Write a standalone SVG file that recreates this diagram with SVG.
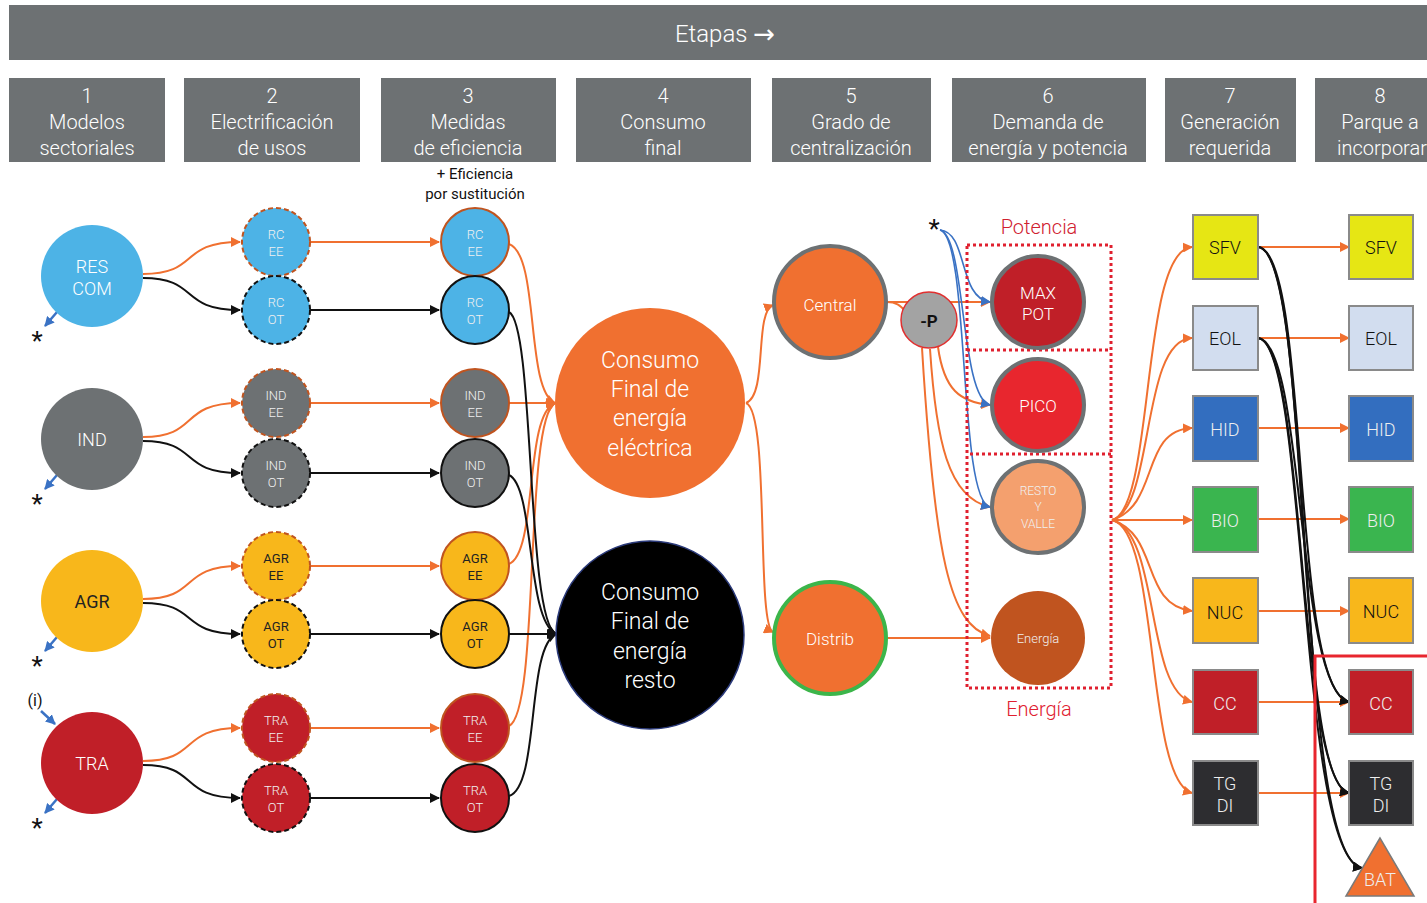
<svg xmlns="http://www.w3.org/2000/svg" width="1427" height="903" viewBox="0 0 1427 903">
<style>
text{font-family:Roboto,"Liberation Sans",sans-serif;text-anchor:middle;dominant-baseline:central}
.hdr{fill:#6d7173}
.ht{fill:#fff;font-size:24px;font-weight:300}
.st{fill:#fff;font-size:20px;font-weight:300}
.sm{fill:#f0f0f0;font-size:13px;font-weight:300}
.smd{fill:#222;font-size:13px}
.ee2{stroke:#c0541f;stroke-width:2;stroke-dasharray:5,3}
.ot2{stroke:#111;stroke-width:2;stroke-dasharray:5,3}
.ee3{stroke:#c0541f;stroke-width:2}
.ot3{stroke:#111;stroke-width:2}
.o{fill:none;stroke:#f07030;stroke-width:2}
.k{fill:none;stroke:#111;stroke-width:2}
.b{fill:none;stroke:#3a72c4;stroke-width:1.6}
.bx{stroke:#8a8a8a;stroke-width:2}
.bt{font-size:18px;font-weight:300}
.big{fill:#fff;font-size:23px;font-weight:300}
.ast{font-size:26px;fill:#111}
</style>
<defs>
<marker id="ao" viewBox="0 0 10 10" refX="9" refY="5" markerWidth="10" markerHeight="10" markerUnits="userSpaceOnUse" orient="auto"><path d="M0,0 L10,5 L0,10 z" fill="#f07030"/></marker>
<marker id="ak" viewBox="0 0 10 10" refX="9" refY="5" markerWidth="10" markerHeight="10" markerUnits="userSpaceOnUse" orient="auto"><path d="M0,0 L10,5 L0,10 z" fill="#111"/></marker>
<marker id="ab" viewBox="0 0 10 10" refX="9" refY="5" markerWidth="10" markerHeight="10" markerUnits="userSpaceOnUse" orient="auto"><path d="M0,0 L10,5 L0,10 z" fill="#3a72c4"/></marker>
</defs>

<g id="header">
<rect class="hdr" x="9" y="5" width="1418" height="55"/>
<text class="ht" x="725" y="34">Etapas <tspan style="font-family:'DejaVu Sans',sans-serif;font-size:26px;font-weight:400">→</tspan></text>
</g>

<g id="stages">
<rect class="hdr" x="9" y="78" width="156" height="84"/>
<text class="st" x="87" y="96">1</text><text class="st" x="87" y="122">Modelos</text><text class="st" x="87" y="148">sectoriales</text>
<rect class="hdr" x="184" y="78" width="176" height="84"/>
<text class="st" x="272" y="96">2</text><text class="st" x="272" y="122">Electrificación</text><text class="st" x="272" y="148">de usos</text>
<rect class="hdr" x="381" y="78" width="175" height="84"/>
<text class="st" x="468" y="96">3</text><text class="st" x="468" y="122">Medidas</text><text class="st" x="468" y="148">de eficiencia</text>
<rect class="hdr" x="576" y="78" width="175" height="84"/>
<text class="st" x="663" y="96">4</text><text class="st" x="663" y="122">Consumo</text><text class="st" x="663" y="148">final</text>
<rect class="hdr" x="772" y="78" width="159" height="84"/>
<text class="st" x="851" y="96">5</text><text class="st" x="851" y="122">Grado de</text><text class="st" x="851" y="148">centralización</text>
<rect class="hdr" x="952" y="78" width="194" height="84"/>
<text class="st" x="1048" y="96">6</text><text class="st" x="1048" y="122">Demanda de</text><text class="st" x="1048" y="148">energía y potencia</text>
<rect class="hdr" x="1165" y="78" width="131" height="84"/>
<text class="st" x="1230" y="96">7</text><text class="st" x="1230" y="122">Generación</text><text class="st" x="1230" y="148">requerida</text>
<rect class="hdr" x="1315" y="78" width="130" height="84"/>
<text class="st" x="1380" y="96">8</text><text class="st" x="1380" y="122">Parque a</text><text class="st" x="1382" y="148">incorporar</text>
<text x="475" y="174" style="font-size:15px;fill:#111">+ Eficiencia</text>
<text x="475" y="194" style="font-size:15px;fill:#111">por sustitución</text>
</g>

<g id="connectors">
<path class="o" d="M143,274 C200,274 178,242 240,242" marker-end="url(#ao)"/>
<path class="k" d="M143,278 C200,278 178,310 240,310" marker-end="url(#ak)"/>
<path class="o" d="M143,437 C200,437 178,403 240,403" marker-end="url(#ao)"/>
<path class="k" d="M143,441 C200,441 178,473 240,473" marker-end="url(#ak)"/>
<path class="o" d="M143,599 C200,599 178,566 240,566" marker-end="url(#ao)"/>
<path class="k" d="M143,603 C200,603 178,634 240,634" marker-end="url(#ak)"/>
<path class="o" d="M143,761 C200,761 178,728 240,728" marker-end="url(#ao)"/>
<path class="k" d="M143,765 C200,765 178,798 240,798" marker-end="url(#ak)"/>
<path class="o" d="M310,242 L439,242" marker-end="url(#ao)"/>
<path class="k" d="M310,310 L439,310" marker-end="url(#ak)"/>
<path class="o" d="M310,403 L439,403" marker-end="url(#ao)"/>
<path class="k" d="M310,473 L439,473" marker-end="url(#ak)"/>
<path class="o" d="M310,566 L439,566" marker-end="url(#ao)"/>
<path class="k" d="M310,634 L439,634" marker-end="url(#ak)"/>
<path class="o" d="M310,728 L439,728" marker-end="url(#ao)"/>
<path class="k" d="M310,798 L439,798" marker-end="url(#ak)"/>
<path class="o" d="M509,244 C540,255 525,390 555,403" marker-end="url(#ao)"/>
<path class="o" d="M509,403 L555,403" marker-end="url(#ao)"/>
<path class="o" d="M509,564 C538,552 524,415 555,403" marker-end="url(#ao)"/>
<path class="o" d="M509,726 C540,712 524,420 555,403" marker-end="url(#ao)"/>
<path class="k" d="M509,312 C535,325 526,620 556,634" marker-end="url(#ak)"/>
<path class="k" d="M509,475 C535,487 526,620 556,634" marker-end="url(#ak)"/>
<path class="k" d="M509,634 L556,634" marker-end="url(#ak)"/>
<path class="k" d="M509,796 C540,786 526,648 556,634" marker-end="url(#ak)"/>
<path class="o" d="M746,403 C768,395 754,312 773,305" marker-end="url(#ao)"/>
<path class="o" d="M746,403 C770,412 756,625 773,632" marker-end="url(#ao)"/>
<path class="o" d="M887,302 L990,302" marker-end="url(#ao)"/>
<path class="o" d="M887,302 C896,302 900,305 906,312"/>
<path class="o" d="M938,347 C944,390 960,402 990,405" marker-end="url(#ao)"/>
<path class="o" d="M930,349 C936,440 948,498 990,507" marker-end="url(#ao)"/>
<path class="o" d="M922,348 C935,560 950,625 990,636" marker-end="url(#ao)"/>
<path class="o" d="M888,638 L990,638" marker-end="url(#ao)"/>
<path class="b" d="M940,230 C968,232 958,298 990,302" marker-end="url(#ab)"/>
<path class="b" d="M940,230 C966,236 960,398 990,405" marker-end="url(#ab)"/>
<path class="b" d="M940,230 C970,238 958,500 990,507" marker-end="url(#ab)"/>
<path class="b" style="stroke-width:2.5" d="M57,312 L45,326" marker-end="url(#ab)"/>
<path class="b" style="stroke-width:2.5" d="M57,475 L45,489" marker-end="url(#ab)"/>
<path class="b" style="stroke-width:2.5" d="M57,637 L45,651" marker-end="url(#ab)"/>
<path class="b" style="stroke-width:2.5" d="M57,799 L45,813" marker-end="url(#ab)"/>
<path class="b" style="stroke-width:2.5" d="M41,711 L55,724" marker-end="url(#ab)"/>
<path class="o" d="M1112,520 C1155,510 1140,250 1192,247" marker-end="url(#ao)"/>
<path class="o" d="M1112,520 C1155,508 1140,340 1192,338" marker-end="url(#ao)"/>
<path class="o" d="M1112,520 C1160,505 1140,430 1192,428" marker-end="url(#ao)"/>
<path class="o" d="M1112,520 L1192,520" marker-end="url(#ao)"/>
<path class="o" d="M1112,520 C1160,535 1140,605 1192,611" marker-end="url(#ao)"/>
<path class="o" d="M1112,520 C1160,532 1145,690 1192,702" marker-end="url(#ao)"/>
<path class="o" d="M1112,520 C1160,530 1145,780 1192,793" marker-end="url(#ao)"/>
<path class="o" d="M1258,247 L1349,247" marker-end="url(#ao)"/>
<path class="o" d="M1258,338 L1349,338" marker-end="url(#ao)"/>
<path class="o" d="M1258,428 L1349,428" marker-end="url(#ao)"/>
<path class="o" d="M1258,519 L1349,519" marker-end="url(#ao)"/>
<path class="o" d="M1258,611 L1349,611" marker-end="url(#ao)"/>
<path class="o" d="M1258,702 L1349,702" marker-end="url(#ao)"/>
<path class="o" d="M1258,793 L1349,793" marker-end="url(#ao)"/>
<path class="k" d="M1258,247 C1310,250 1290,690 1349,702" marker-end="url(#ak)"/>
<path class="k" d="M1258,247 C1312,250 1292,782 1349,793" marker-end="url(#ak)"/>
<path class="k" d="M1258,247 C1314,250 1294,858 1362,868" marker-end="url(#ak)"/>
<path class="k" d="M1258,338 C1305,342 1296,690 1349,702" marker-end="url(#ak)"/>
<path class="k" d="M1258,338 C1306,342 1297,782 1349,793" marker-end="url(#ak)"/>
<path class="k" d="M1258,338 C1308,342 1298,858 1362,868" marker-end="url(#ak)"/>
</g>

<g id="marks">
<text class="ast" x="37" y="341">*</text>
<text class="ast" x="37" y="504">*</text>
<text class="ast" x="37" y="666">*</text>
<text class="ast" x="37" y="828">*</text>
<text x="35" y="700" style="font-size:16px;fill:#111">(i)</text>
<text class="ast" x="934" y="229">*</text>
</g>

<g id="n-res"><circle cx="92" cy="276" r="51" fill="#4db3e6"/><text class="st" x="92" y="266" style="font-size:18px">RES</text><text class="st" x="92" y="288" style="font-size:18px">COM</text></g>
<g id="n-ind"><circle cx="92" cy="439" r="51" fill="#6d7173"/><text class="st" x="92" y="439" style="font-size:18px">IND</text></g>
<g id="n-agr"><circle cx="92" cy="601" r="51" fill="#f8b71b"/><text x="92" y="601" style="font-size:18px;fill:#222">AGR</text></g>
<g id="n-tra"><circle cx="92" cy="763" r="51" fill="#c01f28"/><text class="st" x="92" y="763" style="font-size:18px">TRA</text></g>

<g id="n-rc-ee2"><circle cx="276" cy="242" r="34" fill="#4db3e6" class="ee2"/><text class="sm" x="276" y="234">RC</text><text class="sm" x="276" y="251">EE</text></g>
<g id="n-rc-ot2"><circle cx="276" cy="310" r="34" fill="#4db3e6" class="ot2"/><text class="sm" x="276" y="302">RC</text><text class="sm" x="276" y="319">OT</text></g>
<g id="n-ind-ee2"><circle cx="276" cy="403" r="34" fill="#6d7173" class="ee2"/><text class="sm" x="276" y="395">IND</text><text class="sm" x="276" y="412">EE</text></g>
<g id="n-ind-ot2"><circle cx="276" cy="473" r="34" fill="#6d7173" class="ot2"/><text class="sm" x="276" y="465">IND</text><text class="sm" x="276" y="482">OT</text></g>
<g id="n-agr-ee2"><circle cx="276" cy="566" r="34" fill="#f8b71b" class="ee2"/><text class="smd" x="276" y="558">AGR</text><text class="smd" x="276" y="575">EE</text></g>
<g id="n-agr-ot2"><circle cx="276" cy="634" r="34" fill="#f8b71b" class="ot2"/><text class="smd" x="276" y="626">AGR</text><text class="smd" x="276" y="643">OT</text></g>
<g id="n-tra-ee2"><circle cx="276" cy="728" r="34" fill="#c01f28" class="ee2"/><text class="sm" x="276" y="720">TRA</text><text class="sm" x="276" y="737">EE</text></g>
<g id="n-tra-ot2"><circle cx="276" cy="798" r="34" fill="#c01f28" class="ot2"/><text class="sm" x="276" y="790">TRA</text><text class="sm" x="276" y="807">OT</text></g>

<g id="n-rc-ee3"><circle cx="475" cy="242" r="34" fill="#4db3e6" class="ee3"/><text class="sm" x="475" y="234">RC</text><text class="sm" x="475" y="251">EE</text></g>
<g id="n-rc-ot3"><circle cx="475" cy="310" r="34" fill="#4db3e6" class="ot3"/><text class="sm" x="475" y="302">RC</text><text class="sm" x="475" y="319">OT</text></g>
<g id="n-ind-ee3"><circle cx="475" cy="403" r="34" fill="#6d7173" class="ee3"/><text class="sm" x="475" y="395">IND</text><text class="sm" x="475" y="412">EE</text></g>
<g id="n-ind-ot3"><circle cx="475" cy="473" r="34" fill="#6d7173" class="ot3"/><text class="sm" x="475" y="465">IND</text><text class="sm" x="475" y="482">OT</text></g>
<g id="n-agr-ee3"><circle cx="475" cy="566" r="34" fill="#f8b71b" class="ee3"/><text class="smd" x="475" y="558">AGR</text><text class="smd" x="475" y="575">EE</text></g>
<g id="n-agr-ot3"><circle cx="475" cy="634" r="34" fill="#f8b71b" class="ot3"/><text class="smd" x="475" y="626">AGR</text><text class="smd" x="475" y="643">OT</text></g>
<g id="n-tra-ee3"><circle cx="475" cy="728" r="34" fill="#c01f28" class="ee3"/><text class="sm" x="475" y="720">TRA</text><text class="sm" x="475" y="737">EE</text></g>
<g id="n-tra-ot3"><circle cx="475" cy="798" r="34" fill="#c01f28" class="ot3"/><text class="sm" x="475" y="790">TRA</text><text class="sm" x="475" y="807">OT</text></g>

<g id="n-cfe"><circle cx="650" cy="403" r="95" fill="#f07030"/><text class="big" x="650" y="360">Consumo</text><text class="big" x="650" y="389">Final de</text><text class="big" x="650" y="418">energía</text><text class="big" x="650" y="448">eléctrica</text></g>
<g id="n-cfr"><circle cx="650" cy="635" r="94" fill="#000" stroke="#2b3a7a" stroke-width="1.5"/><text class="big" x="650" y="592">Consumo</text><text class="big" x="650" y="621">Final de</text><text class="big" x="650" y="651">energía</text><text class="big" x="650" y="680">resto</text></g>

<g id="n-central"><circle cx="830" cy="302" r="56" fill="#f07030" stroke="#6d7173" stroke-width="4"/><text class="st" x="830" y="305" style="font-size:17px">Central</text></g>
<g id="n-distrib"><circle cx="830" cy="638" r="56" fill="#f07030" stroke="#3cb54a" stroke-width="4"/><text class="st" x="830" y="639" style="font-size:17px">Distrib</text></g>
<g id="n-p"><circle cx="929" cy="320" r="28" fill="#a3a3a3" stroke="#e03030" stroke-width="1.5"/><text x="929" y="321" style="font-size:17px;font-weight:bold;fill:#111">-P</text></g>

<g id="demand-box" fill="none" stroke="#e0202f" stroke-width="3" stroke-dasharray="3,3">
<rect x="967" y="245" width="144" height="443"/>
<line x1="967" y1="350" x2="1111" y2="350"/>
<line x1="970" y1="454" x2="1111" y2="454"/>
</g>
<text x="1039" y="227" style="font-size:20px;fill:#d0202f;font-weight:300">Potencia</text>
<text x="1039" y="709" style="font-size:20px;fill:#e0202f;font-weight:300">Energía</text>

<g id="n-maxpot"><circle cx="1038" cy="302" r="46" fill="#c01f28" stroke="#6d7173" stroke-width="4"/><text class="st" x="1038" y="293" style="font-size:17px">MAX</text><text class="st" x="1038" y="314" style="font-size:17px">POT</text></g>
<g id="n-pico"><circle cx="1038" cy="405" r="46" fill="#e8262e" stroke="#6d7173" stroke-width="4"/><text class="st" x="1038" y="406" style="font-size:17px">PICO</text></g>
<g id="n-resto"><circle cx="1038" cy="507" r="46" fill="#f4a06e" stroke="#6d7173" stroke-width="4"/><text class="sm" x="1038" y="491" style="font-size:12px">RESTO</text><text class="sm" x="1038" y="507" style="font-size:12px">Y</text><text class="sm" x="1038" y="524" style="font-size:12px">VALLE</text></g>
<g id="n-energia"><circle cx="1038" cy="638" r="47" fill="#c0541f"/><text class="sm" x="1038" y="638">Energía</text></g>

<g id="n-sfv7"><rect class="bx" x="1193" y="215" width="65" height="64" fill="#e6e614"/><text class="bt" x="1225" y="247" fill="#111">SFV</text></g>
<g id="n-eol7"><rect class="bx" x="1193" y="306" width="65" height="64" fill="#d2ddef"/><text class="bt" x="1225" y="338" fill="#111">EOL</text></g>
<g id="n-hid7"><rect class="bx" x="1193" y="396" width="65" height="65" fill="#336ebf"/><text class="bt" x="1225" y="429" fill="#eee">HID</text></g>
<g id="n-bio7"><rect class="bx" x="1193" y="487" width="65" height="65" fill="#3ab54f"/><text class="bt" x="1225" y="520" fill="#eee">BIO</text></g>
<g id="n-nuc7"><rect class="bx" x="1193" y="578" width="65" height="65" fill="#f8b71b"/><text class="bt" x="1225" y="612" fill="#111">NUC</text></g>
<g id="n-cc7"><rect class="bx" x="1193" y="670" width="65" height="64" fill="#c01f28"/><text class="bt" x="1225" y="703" fill="#eee">CC</text></g>
<g id="n-tg7"><rect class="bx" x="1193" y="761" width="65" height="64" fill="#2d2d30"/><text class="bt" x="1225" y="783" fill="#eee">TG</text><text class="bt" x="1225" y="805" fill="#eee">DI</text></g>

<g id="n-sfv8"><rect class="bx" x="1349" y="215" width="64" height="64" fill="#e6e614"/><text class="bt" x="1381" y="247" fill="#111">SFV</text></g>
<g id="n-eol8"><rect class="bx" x="1349" y="306" width="64" height="64" fill="#d2ddef"/><text class="bt" x="1381" y="338" fill="#111">EOL</text></g>
<g id="n-hid8"><rect class="bx" x="1349" y="396" width="64" height="65" fill="#336ebf"/><text class="bt" x="1381" y="429" fill="#eee">HID</text></g>
<g id="n-bio8"><rect class="bx" x="1349" y="487" width="64" height="65" fill="#3ab54f"/><text class="bt" x="1381" y="520" fill="#eee">BIO</text></g>
<g id="n-nuc8"><rect class="bx" x="1349" y="578" width="64" height="65" fill="#f8b71b"/><text class="bt" x="1381" y="611" fill="#111">NUC</text></g>
<g id="n-cc8"><rect class="bx" x="1349" y="670" width="64" height="64" fill="#c01f28"/><text class="bt" x="1381" y="703" fill="#eee">CC</text></g>
<g id="n-tg8"><rect class="bx" x="1349" y="761" width="64" height="64" fill="#2d2d30"/><text class="bt" x="1381" y="783" fill="#eee">TG</text><text class="bt" x="1381" y="805" fill="#eee">DI</text></g>
<g id="n-bat"><polygon points="1380,838 1346,896 1414,896" fill="#f07030" stroke="#7a7a7a" stroke-width="1.5"/><text class="bt" x="1380" y="879" fill="#eee">BAT</text></g>

<path id="red-line" d="M1315,903 L1315,656 L1427,656" fill="none" stroke="#e8262e" stroke-width="3"/>
</svg>
